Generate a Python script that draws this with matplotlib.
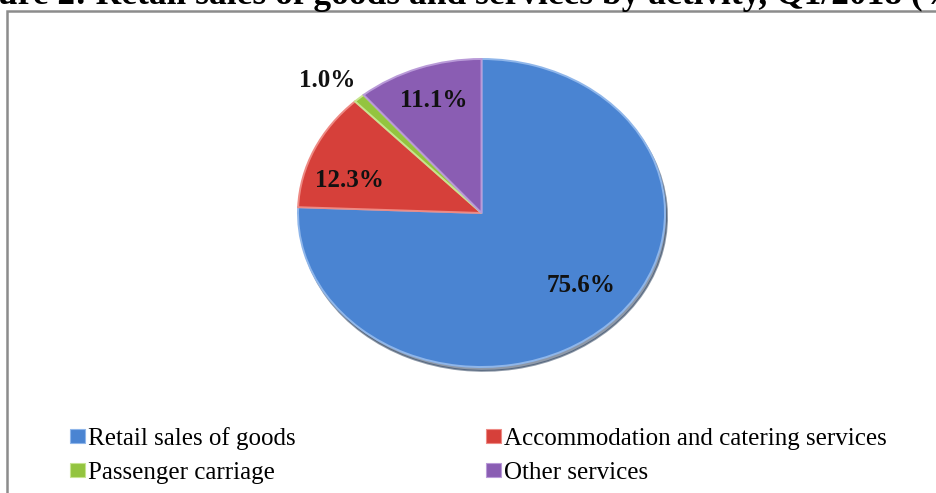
import numpy as np
import matplotlib.pyplot as plt
from matplotlib.patches import Rectangle

# retail sales breakdown by activity (%)
activities = ["Retail sales of goods", "Accommodation and catering services",
              "Passenger carriage", "Other services"]
shares = [75.6, 12.3, 1.0, 11.1]
colors = ["#4a84d2", "#d6403a", "#93c43f", "#8a5db3"]
edges = ["#8fb6ea", "#ee8a84", "#c7e48f", "#b99ad8"]

title = "Figure 2: Retail sales of goods and services by activity, Q1/2018 (%)"

W, H = 936, 493
fig = plt.figure(figsize=(W / 100, H / 100), dpi=100)
fig.patch.set_facecolor("white")

# outer frame, runs off the right/bottom edge
fig.patches.append(Rectangle((7 / W, -0.1), 1.2, (H - 11) / H + 0.1,
                             transform=fig.transFigure, fill=False,
                             edgecolor="#8c8c8c", linewidth=1.8))

# title sits mostly above the top of the canvas; "Fig" hangs off the left
tfont = dict(fontsize=25.5, fontweight="bold", family="Liberation Serif")
r = fig.canvas.get_renderer()
probe = fig.text(0, 0, "Fig", **tfont)
shift = probe.get_window_extent(r).width + 2
probe.remove()
fig.text(-shift / W, 1 - 4 / H, title, ha="left", va="baseline", **tfont)

# pie axes: a non-square box turns the pie into an ellipse
x0, x1, y0, y1 = 298, 665, 59, 367
ax = fig.add_axes([x0 / W, 1 - y1 / H, (x1 - x0) / W, (y1 - y0) / H])
wedges, texts, autotexts = ax.pie(
    shares, colors=colors, startangle=90, counterclock=False,
    autopct="%.1f%%", pctdistance=0.75,
    shadow=dict(ox=0.008, oy=-0.018, shade=0.6),
    wedgeprops=dict(linewidth=1.4),
    textprops=dict(fontsize=18, fontweight="bold", family="Liberation Serif",
                   color="#111111"))
for w, e in zip(wedges, edges):
    w.set_edgecolor(e)
ax.set_aspect("auto")
ax.set_xlim(-1.0, 1.0)
ax.set_ylim(-1.0, 1.0)
ax.axis("off")

# label spots inside the squashed pie (1.0% sits outside)
label_xy = [(0.54, -0.47), (-0.72, 0.21), (-0.84, 0.86), (-0.26, 0.73)]
for t, xy in zip(autotexts, label_xy):
    t.set_position(xy)

# legend in two columns below the pie
handles = [Rectangle((0, 0), 1, 1, facecolor=c, edgecolor=e, linewidth=0.8)
           for c, e in zip(colors, edges)]
order = [0, 2, 1, 3]
fig.legend([handles[i] for i in order], [activities[i] for i in order],
           ncol=2, loc="upper left", bbox_to_anchor=(70 / W, 1 - 427 / H),
           frameon=False, borderpad=0, borderaxespad=0,
           handlelength=0.6, handleheight=0.5,
           handletextpad=0.12, columnspacing=7.6, labelspacing=0.48,
           prop=dict(family="Liberation Serif", size=18))

fig.savefig("out.png", dpi=100)
